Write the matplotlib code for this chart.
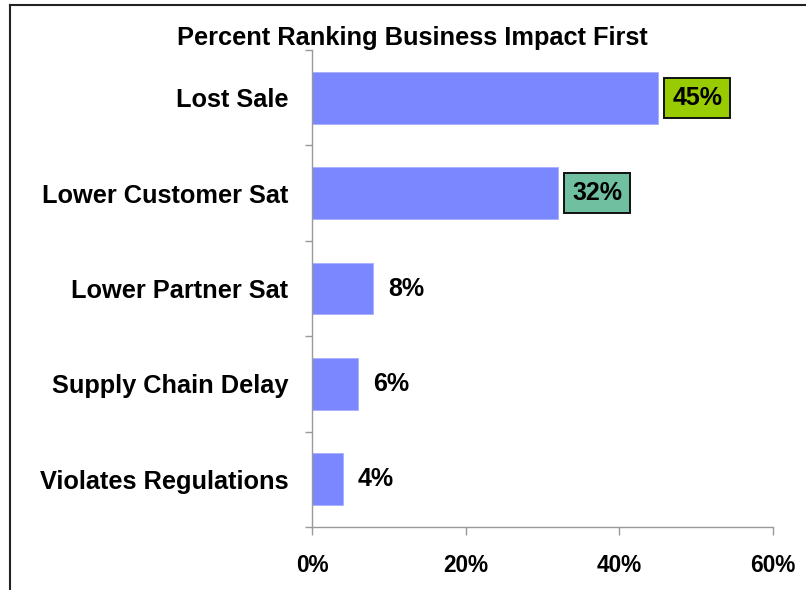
import matplotlib.pyplot as plt
from matplotlib.lines import Line2D
import numpy as np

plt.rcParams['font.family'] = ['Liberation Sans', 'DejaVu Sans']

# dados
categorias = ['Lost Sale', 'Lower Customer Sat', 'Lower Partner Sat',
              'Supply Chain Delay', 'Violates Regulations']
percentuais = [45, 32, 8, 6, 4]
cores_caixa = ['#99cc00', '#70bfa0', None, None, None]
xticks = [0, 20, 40, 60]

fig = plt.figure(figsize=(8.06, 5.9), dpi=100)
ax = fig.add_axes([312/806, 1 - 527/590, (773 - 312)/806, (527 - 50)/590])

y = np.arange(len(categorias))
ax.barh(y, percentuais, height=0.545, color='#7b87ff',
        edgecolor='#a8b0ff', linewidth=0.6)
ax.set_ylim(len(categorias) - 0.5, -0.5)
ax.set_xlim(0, 60)

# rótulos de valor
for i, (v, c) in enumerate(zip(percentuais, cores_caixa)):
    kw = dict(xy=(v, i), xytext=(10.5, 0), textcoords='offset points',
              ha='left', va='center', fontsize=18, fontweight='bold')
    if c is not None:
        kw['bbox'] = dict(boxstyle='square,pad=0.32', fc=c, ec='#111111', lw=1.4)
    ax.annotate(f'{v}%', **kw)

# ticks do eixo y nos limites entre categorias
ax.set_yticks(np.arange(len(categorias) + 1) - 0.5, minor=False)
ax.set_yticklabels([])
ax.set_yticks(y, minor=True)
ax.set_yticklabels(categorias, minor=True, fontsize=18.3, fontweight='bold')
ax.tick_params(axis='y', which='major', length=5, color='#999999', width=1)
ax.tick_params(axis='y', which='minor', length=0, pad=17)

ax.set_xticks(xticks)
ax.set_xticklabels([f'{t}%' for t in xticks], fontsize=16.3, fontweight='bold')
ax.tick_params(axis='x', length=5.5, color='#999999', width=1, pad=14)

for s in ['top', 'right']:
    ax.spines[s].set_visible(False)
for s in ['left', 'bottom']:
    ax.spines[s].set_color('#999999')
    ax.spines[s].set_linewidth(1)

fig.text(412/806, 1 - 38/590, 'Percent Ranking Business Impact First',
         ha='center', va='center', fontsize=18.3, fontweight='bold')

# moldura (cortada à direita e embaixo)
fig.add_artist(Line2D([10/806, 10/806], [0, 1 - 5/590], transform=fig.transFigure,
                      color='#222222', lw=1.5))
fig.add_artist(Line2D([10/806, 1], [1 - 5/590, 1 - 5/590], transform=fig.transFigure,
                      color='#222222', lw=1.5))

fig.savefig('out.png', dpi=100)
